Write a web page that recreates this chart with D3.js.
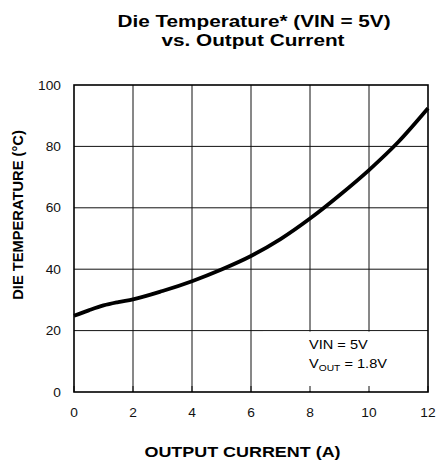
<!DOCTYPE html>
<html>
<head>
<meta charset="utf-8">
<script src="https://cdn.jsdelivr.net/npm/d3@7"></script>
<style>
  body { margin: 0; background: #fff; }
  svg text { font-family: "Liberation Sans", Arial, sans-serif; fill: #000; }
</style>
</head>
<body>
<div id="chart"></div>
<script>
// values
var currentA = [0, 0.5, 1, 1.5, 2, 3, 4, 5, 6, 7, 8, 9, 10, 11, 12];
var dieTempC = [24.8, 26.6, 28.2, 29.3, 30.2, 32.9, 36.1, 39.9, 44.3, 49.8, 56.5, 64.1, 72.3, 81.5, 92.4];
var xTicks = [0, 2, 4, 6, 8, 10, 12];
var yTicks = [0, 20, 40, 60, 80, 100];

var W = 438, H = 462;
var svg = d3.select('#chart').append('svg')
  .attr('width', W)
  .attr('height', H);

var x = d3.scaleLinear().domain([0, 12]).range([74, 428]);
var y = d3.scaleLinear().domain([0, 100]).range([392, 85]);

// text in the reference is a bit wide, so stretch it horizontally
function label(px, py, txt, size, sx, anchor, weight) {
  return svg.append('text')
    .attr('transform', 'translate(' + px + ',' + py + ') scale(' + sx + ',1)')
    .attr('text-anchor', anchor)
    .attr('font-size', size)
    .attr('font-weight', weight || 'normal')
    .text(txt);
}

// grid
svg.append('g').selectAll('line.v')
  .data(xTicks.slice(1, -1))
  .enter().append('line')
  .attr('x1', function(d) { return x(d); })
  .attr('x2', function(d) { return x(d); })
  .attr('y1', y(100)).attr('y2', y(0))
  .attr('stroke', '#111').attr('stroke-width', 1);

svg.append('g').selectAll('line.h')
  .data(yTicks.slice(1, -1))
  .enter().append('line')
  .attr('x1', x(0)).attr('x2', x(12))
  .attr('y1', function(d) { return y(d); })
  .attr('y2', function(d) { return y(d); })
  .attr('stroke', '#111').attr('stroke-width', 1);

// white patch behind the note
svg.append('rect')
  .attr('x', x(6.4)).attr('y', y(20) + 1)
  .attr('width', x(12) - x(6.4) - 1)
  .attr('height', y(0) - y(20) - 2)
  .attr('fill', '#fff');

// bottom inner ticks
svg.append('g').selectAll('line')
  .data(xTicks)
  .enter().append('line')
  .attr('x1', function(d) { return x(d); })
  .attr('x2', function(d) { return x(d); })
  .attr('y1', y(0)).attr('y2', y(0) - 6)
  .attr('stroke', '#111').attr('stroke-width', 1);

// frame
svg.append('rect')
  .attr('x', x(0)).attr('y', y(100))
  .attr('width', x(12) - x(0))
  .attr('height', y(0) - y(100))
  .attr('fill', 'none')
  .attr('stroke', '#000').attr('stroke-width', 1.6);

// curve
var pts = currentA.map(function(c, i) { return [c, dieTempC[i]]; });
var line = d3.line()
  .x(function(d) { return x(d[0]); })
  .y(function(d) { return y(d[1]); })
  .curve(d3.curveMonotoneX);
svg.append('path')
  .datum(pts)
  .attr('d', line)
  .attr('fill', 'none')
  .attr('stroke', '#000')
  .attr('stroke-width', 3.8)
  .attr('stroke-linecap', 'butt');

// tick labels
xTicks.forEach(function(t) {
  label(x(t), 416.5, t, 12.5, 1.1, 'middle').style('fill', '#111');
});
yTicks.forEach(function(t) {
  label(61, y(t) + 4.5, t, 12.5, 1.1, 'end').style('fill', '#111');
});

// note
label(309, 349, 'VIN = 5V', 13.5, 1.08, 'start');
var note2 = svg.append('text')
  .attr('transform', 'translate(309,367.5) scale(1.08,1)')
  .attr('font-size', 13.5);
note2.append('tspan').text('V');
note2.append('tspan').attr('font-size', 9.5).attr('dy', 3).text('OUT');
note2.append('tspan').attr('dy', -3).text(' = 1.8V');

// titles
label(254, 27, 'Die Temperature* (VIN = 5V)', 16.6, 1.25, 'middle', 'bold');
label(253, 46, 'vs. Output Current', 16.6, 1.25, 'middle', 'bold');
label(242.5, 456.5, 'OUTPUT CURRENT (A)', 15.2, 1.18, 'middle', 'bold');

svg.append('text')
  .attr('transform', 'translate(23.3,215) rotate(-90)')
  .attr('text-anchor', 'middle')
  .attr('font-size', 14.7)
  .attr('font-weight', 'bold')
  .text('DIE TEMPERATURE (°C)');
</script>
</body>
</html>
